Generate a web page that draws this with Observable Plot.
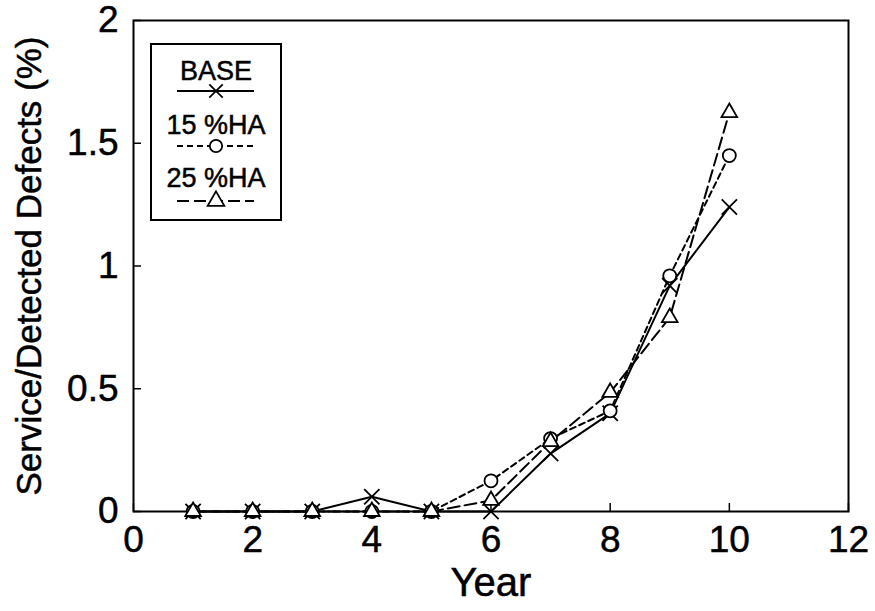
<!DOCTYPE html>
<html>
<head>
<meta charset="utf-8">
<script src="https://cdn.jsdelivr.net/npm/d3@7"></script>
<script src="https://cdn.jsdelivr.net/npm/@observablehq/plot@0.6"></script>
<style>
  html, body { margin: 0; padding: 0; background: #fff; }
  #wrap { position: relative; width: 875px; height: 611px; }
  #legend { position: absolute; left: 0; top: 0; }
  #wrap svg text { stroke: #000; stroke-width: 0.5px; }
</style>
</head>
<body>
<div id="wrap"></div>
<script>
const years = [1, 2, 3, 4, 5, 6, 7, 8, 9, 10];
const base  = [0, 0, 0, 0.06, 0, 0, 0.236, 0.40, 0.92, 1.24];
const ha15  = [0, 0, 0, 0, 0, 0.125, 0.297, 0.41, 0.96, 1.45];
const ha25  = [0, 0, 0, 0, 0, 0.045, 0.285, 0.485, 0.79, 1.625];
const seriesNames = ["BASE", "15 %HA", "25 %HA"];
const xTicks = [0, 2, 4, 6, 8, 10, 12];
const yTicks = [0, 0.5, 1, 1.5, 2];
const xTitle = "Year";
const yTitle = "Service/Detected Defects (%)";

const seriesVals = [base, ha15, ha25];
const symbols = ["times", "circle", "triangle"];
const symbolR = [7, 6.5, 5.8];
const dashes = [null, "6,4", "12,5"];

const rows = [];
seriesNames.forEach((s, i) => years.forEach((y, j) => rows.push({series: s, year: y, value: seriesVals[i][j]})));

const font = "'Liberation Sans', Arial, Helvetica, sans-serif";

const marks = [];
seriesNames.forEach((s, i) => {
  const d = rows.filter(r => r.series === s);
  marks.push(Plot.line(d, {x: "year", y: "value", stroke: "#000", strokeWidth: 2, strokeDasharray: dashes[i]}));
  marks.push(Plot.dot(d, {x: "year", y: "value", symbol: () => symbols[i], r: symbolR[i], stroke: "#000", strokeWidth: 1.8, fill: i === 0 ? "none" : "white"}));
});

const chart = Plot.plot({
  width: 875,
  height: 611,
  marginLeft: 133,
  marginRight: 27,
  marginTop: 20,
  marginBottom: 100,
  style: {fontFamily: font, background: "#fff", color: "#000"},
  x: {domain: [0, 12]},
  y: {domain: [0, 2]},
  symbol: {type: "identity"},
  marks: [
    Plot.axisX(xTicks, {tickSize: -8, tickPadding: 22, fontSize: 37, label: null, strokeWidth: 1.5, tickFormat: d => String(d)}),
    Plot.axisY(yTicks, {tickSize: -8, tickPadding: 23, fontSize: 37, label: null, strokeWidth: 1.5, tickFormat: d => String(d)}),
    Plot.frame({stroke: "#000", strokeWidth: 2}),
    ...marks,
    Plot.text([xTitle], {text: d => d, frameAnchor: "bottom", lineAnchor: "middle", dy: 72, fontSize: 40, fill: "#000"}),
    Plot.text([yTitle], {text: d => d, frameAnchor: "left", textAnchor: "middle", lineAnchor: "middle", dx: -104, rotate: -90, fontSize: 35, fill: "#000"})
  ]
});
document.getElementById("wrap").appendChild(chart);

// Legend (inside the plot frame, top-left)
const lg = d3.select("#wrap").append("svg").attr("id", "legend")
  .attr("width", 875).attr("height", 611)
  .style("pointer-events", "none");
const box = {x: 151, y: 44, w: 130, h: 176};
lg.append("rect").attr("x", box.x).attr("y", box.y).attr("width", box.w).attr("height", box.h)
  .attr("fill", "white").attr("stroke", "#000").attr("stroke-width", 2);
const cx = 216;
const textY = [80, 134, 187];
const lineY = [91, 146, 201];
seriesNames.forEach((s, i) => {
  lg.append("text").attr("x", cx).attr("y", textY[i]).attr("text-anchor", "middle")
    .attr("font-family", font).attr("font-size", 27).attr("fill", "#000").text(s);
  lg.append("line").attr("x1", 177).attr("x2", 254).attr("y1", lineY[i]).attr("y2", lineY[i])
    .attr("stroke", "#000").attr("stroke-width", 2).attr("stroke-dasharray", dashes[i]);
  const sym = d3.symbol().type(i === 0 ? d3.symbolTimes : i === 1 ? d3.symbolCircle : d3.symbolTriangle).size(120);
  lg.append("path").attr("transform", `translate(${cx},${lineY[i]})`).attr("d", sym())
    .attr("fill", i === 0 ? "none" : "white").attr("stroke", "#000").attr("stroke-width", 1.8);
});
</script>
</body>
</html>
